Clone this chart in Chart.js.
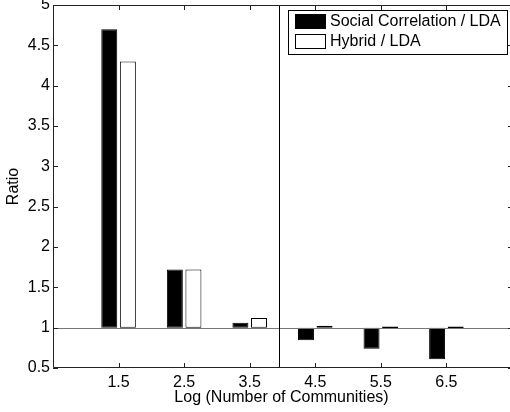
<!DOCTYPE html>
<html><head><meta charset="utf-8">
<script src="https://cdn.jsdelivr.net/npm/chart.js@4"></script>
<style>
html,body{margin:0;padding:0;background:#fff;overflow:hidden;width:510px;height:412px}
#wrap{width:510px;height:412px}
</style></head>
<body><div id="wrap"><canvas id="c" width="510" height="412"></canvas></div>
<script>
const categories = [1.5, 2.5, 3.5, 4.5, 5.5, 6.5];
const socialCorrelation = [4.70, 1.72, 1.06, 0.845, 0.74, 0.61];
const hybrid = [4.30, 1.72, 1.12, 1.015, 0.99, 0.99];
const seriesNames = ['Social Correlation / LDA', 'Hybrid / LDA'];
const xTickValues = [1.5, 2.5, 3.5, 4.5, 5.5, 6.5];
const xTickLabels = ['1.5', '2.5', '3.5', '4.5', '5.5', '6.5'];
const yTickValues = [0.5, 1, 1.5, 2, 2.5, 3, 3.5, 4, 4.5, 5];
const yTickLabels = ['0.5', '1', '1.5', '2', '2.5', '3', '3.5', '4', '4.5', '5'];
const baselineValue = 1;
const dividerX = 3.95;
const xRange = [0.5, 7.47];
const yRange = [0.5, 5];

const FONT = {family: "'Liberation Sans', Arial, Helvetica, sans-serif", size: 16};
const fontStr = "16px 'Liberation Sans', Arial, Helvetica, sans-serif";

const framePlugin = {
  id: 'frame',
  afterDatasetsDraw(chart) {
    const {ctx, chartArea: a, scales: {x, y}} = chart;
    const ds = chart.data.datasets;
    ctx.save();
    // baseline
    const by = Math.round(y.getPixelForValue(baselineValue)) + 0.5;
    ctx.lineWidth = 1;
    ctx.strokeStyle = '#777';
    ctx.beginPath(); ctx.moveTo(a.left, by); ctx.lineTo(a.right, by); ctx.stroke();
    // divider
    const dx = Math.round(x.getPixelForValue(dividerX)) + 0.5;
    ctx.strokeStyle = '#000';
    ctx.beginPath(); ctx.moveTo(dx, a.top); ctx.lineTo(dx, a.bottom); ctx.stroke();
    // legend
    const lx = 288, ly = 10, lw = 219, lh = 44;
    ctx.fillStyle = '#fff';
    ctx.fillRect(lx, ly, lw, lh);
    ctx.strokeStyle = '#000';
    ctx.strokeRect(lx + 0.5, ly + 0.5, lw, lh);
    ctx.font = fontStr;
    ctx.textBaseline = 'middle';
    ctx.textAlign = 'left';
    ds.forEach((d, i) => {
      const ry = ly + 4 + i * 20;
      ctx.fillStyle = d.backgroundColor;
      ctx.fillRect(lx + 7, ry, 31, 15);
      ctx.strokeStyle = '#000';
      ctx.strokeRect(lx + 7.5, ry + 0.5, 30, 14);
      ctx.fillStyle = '#000';
      ctx.fillText(d.label, lx + 42, ry + 8);
    });
    // frame (left, top, bottom; right edge lies just outside the picture)
    ctx.strokeStyle = '#222';
    ctx.beginPath();
    ctx.moveTo(a.right, a.top + 0.5); ctx.lineTo(a.left + 0.5, a.top + 0.5);
    ctx.lineTo(a.left + 0.5, a.bottom - 0.5); ctx.lineTo(a.right, a.bottom - 0.5);
    ctx.stroke();
    // inward ticks
    const tl = 5;
    ctx.beginPath();
    xTickValues.forEach(v => {
      const px = Math.round(x.getPixelForValue(v)) + 0.5;
      ctx.moveTo(px, a.bottom); ctx.lineTo(px, a.bottom - tl);
      ctx.moveTo(px, a.top); ctx.lineTo(px, a.top + tl);
    });
    yTickValues.forEach(v => {
      const py = Math.round(y.getPixelForValue(v)) + 0.5;
      ctx.moveTo(a.left, py); ctx.lineTo(a.left + tl, py);
      ctx.moveTo(a.right, py); ctx.lineTo(a.right - 2, py);
    });
    ctx.stroke();
    ctx.restore();
  }
};

new Chart(document.getElementById('c'), {
  type: 'bar',
  data: {
    datasets: [
      {
        label: seriesNames[0],
        data: categories.map((c, i) => ({x: c, y: [baselineValue, socialCorrelation[i]]})),
        backgroundColor: '#000', borderColor: '#000', borderWidth: 1, borderSkipped: false,
        categoryPercentage: 0.567, barPercentage: 0.86
      },
      {
        label: seriesNames[1],
        data: categories.map((c, i) => ({x: c, y: [baselineValue, hybrid[i]]})),
        backgroundColor: '#fff', borderColor: '#000', borderWidth: 1, borderSkipped: false,
        categoryPercentage: 0.567, barPercentage: 0.86, minBarLength: 2
      }
    ]
  },
  options: {
    responsive: false,
    animation: false,
    layout: {padding: {top: 5, left: 0, right: 0, bottom: 0}},
    plugins: {legend: {display: false}, tooltip: {enabled: false}},
    scales: {
      x: {
        type: 'linear', min: xRange[0], max: xRange[1], offset: false,
        grid: {display: false, drawTicks: false}, border: {display: false},
        afterBuildTicks: s => { s.ticks = xTickValues.map(v => ({value: v})); },
        afterFit: s => { s.height = 44; s.paddingLeft = 0; s.paddingRight = 0; },
        ticks: {
          callback: v => xTickLabels[xTickValues.indexOf(v)],
          padding: 5, font: FONT, color: '#000', maxRotation: 0, autoSkip: false
        },
        title: {display: true, text: 'Log (Number of Communities)', font: FONT, color: '#000', padding: {top: 0, bottom: 5}}
      },
      y: {
        min: yRange[0], max: yRange[1],
        grid: {display: false, drawTicks: false}, border: {display: false},
        afterBuildTicks: s => { s.ticks = yTickValues.map(v => ({value: v})); },
        afterFit: s => { s.width = 53; s.paddingTop = 0; s.paddingBottom = 0; },
        ticks: {
          callback: v => yTickLabels[yTickValues.indexOf(v)],
          padding: 3, font: FONT, color: '#000', autoSkip: false
        },
        title: {display: true, text: 'Ratio', font: FONT, color: '#000', padding: {top: 4, bottom: 0}}
      }
    }
  },
  plugins: [framePlugin]
});
</script>
</body></html>
